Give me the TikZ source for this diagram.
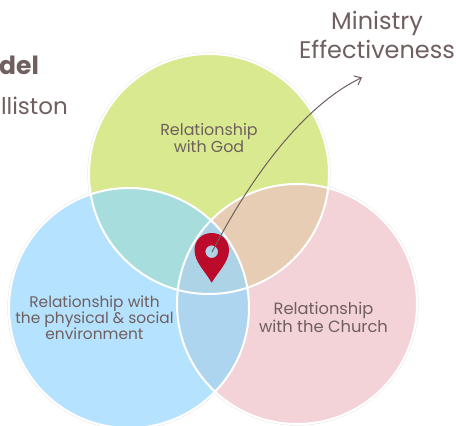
\documentclass[tikz,border=0pt]{standalone}
\usepackage{fontspec}
\setmainfont{Poppins}
\usetikzlibrary{arrows.meta}
\definecolor{txt}{HTML}{6F5F5F}
\definecolor{cG}{HTML}{D9E98F}
\definecolor{cE}{HTML}{B5E2FE}
\definecolor{cC}{HTML}{F3D3D8}
\definecolor{cGE}{HTML}{A8DDDD}
\definecolor{cGC}{HTML}{E7CDB3}
\definecolor{cEC}{HTML}{AED5EF}
\definecolor{cAll}{HTML}{ADD3E7}
\definecolor{pincol}{HTML}{BC0A2B}
\tikzset{
  lab/.style={text=txt,align=center,font=\fontsize{15.9}{15.9}\selectfont,inner sep=0pt},
  venn/.style={draw=white,line width=2pt},
  halo/.style={draw=black!15,line width=0.3pt}
}
\begin{document}
\begin{tikzpicture}[x=1pt,y=-1pt]
\useasboundingbox (0,0) rectangle (456,426);
\coordinate (G) at (209,174);
\coordinate (E) at (129,308);
\coordinate (C) at (297,304);
\def\R{120}
\foreach \p in {G,E,C} \draw[halo] (\p) circle (\R+1.3);
\fill[cG] (G) circle (\R);
\fill[cE] (E) circle (\R);
\fill[cC] (C) circle (\R);
\begin{scope}\clip (G) circle (\R); \fill[cGE] (E) circle (\R); \fill[cGC] (C) circle (\R);\end{scope}
\begin{scope}\clip (E) circle (\R); \fill[cEC] (C) circle (\R);
  \clip (C) circle (\R); \fill[cAll] (G) circle (\R);\end{scope}
\foreach \p in {G,E,C} \draw[venn] (\p) circle (\R);
% map pin
\fill[pincol,even odd rule] (211.7,282.7) .. controls (205,271) and (194.5,262) .. (194.5,250)
  .. controls (194.5,240) and (202,233) .. (211.7,233)
  .. controls (221.5,233) and (229,240) .. (229,250)
  .. controls (229,262) and (218.5,271) .. (211.7,282.7) -- cycle
  (211.7,251.7) circle (6.3);
\coordinate (hole) at (212,252);
\coordinate (tip) at (362,77.5);
\draw[txt,line width=1pt,-{Straight Barb[length=6pt,width=10pt]}] (hole) .. controls (244,190) and (298,108) .. (tip);
\node[lab] (god) at (209,138) {Relationship\\with God};
\node[lab,font=\fontsize{15.4}{15.9}\selectfont] (env) at (94.5,317.5) {Relationship with\\the physical \& social\\environment};
\node[lab,font=\fontsize{16.3}{15.9}\selectfont] (church) at (323.5,317.5) {Relationship\\with the Church};
\node[text=txt,align=center,inner sep=0pt,font=\fontsize{24}{29}\selectfont] (me) at (377,35) {Ministry\\Effectiveness};
\node[text=txt,anchor=base west,inner sep=0pt,font=\fontsize{25}{30}\selectfont\bfseries] (del) at (-1,74) {del};
\node[text=txt,anchor=base east,inner sep=0pt,font=\fontsize{23}{26}\selectfont] (ell) at (68,114) {lliston};
\end{tikzpicture}
\end{document}
